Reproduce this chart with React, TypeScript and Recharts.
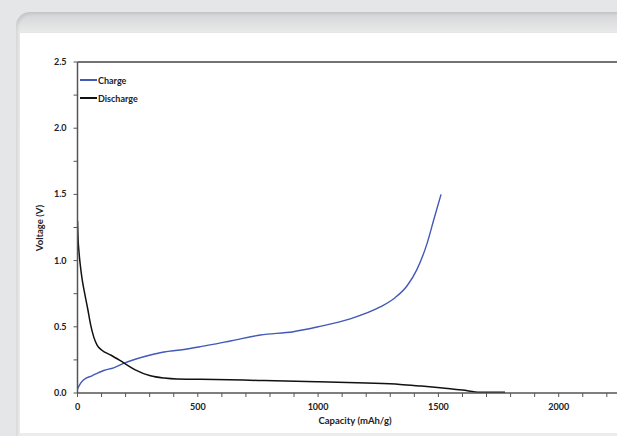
import React from "react";
import { LineChart, Line, XAxis, YAxis, ReferenceLine, Label } from "recharts";

// values
const chargeCapacity = [0, 8, 26, 60, 109, 150, 192, 240, 303, 360, 427, 511, 640, 760, 897, 1000, 1133, 1258, 1320, 1370, 1410, 1453, 1481, 1511];
const chargeVoltage = [0.03, 0.06, 0.1, 0.13, 0.17, 0.19, 0.224, 0.255, 0.287, 0.31, 0.325, 0.35, 0.395, 0.438, 0.463, 0.5, 0.56, 0.65, 0.72, 0.81, 0.93, 1.13, 1.31, 1.5];

const dischargeCapacity = [0, 2, 6, 12, 20, 30, 42, 54, 68, 82, 100, 140, 192, 240, 303, 360, 414, 511, 750, 996, 1200, 1341, 1430, 1507, 1600, 1673, 1720, 1777];
const dischargeVoltage = [1.3, 1.18, 1.07, 0.96, 0.85, 0.75, 0.64, 0.52, 0.42, 0.36, 0.325, 0.285, 0.228, 0.175, 0.13, 0.113, 0.106, 0.104, 0.095, 0.085, 0.075, 0.065, 0.052, 0.04, 0.022, 0.006, 0.005, 0.005];

const xTicks = [0, 100, 200, 300, 400, 500, 600, 700, 800, 900, 1000, 1100, 1200, 1300, 1400, 1500, 1600, 1700, 1800, 1900, 2000, 2100, 2200, 2300, 2400, 2500];
const yTicks = [0, 0.25, 0.5, 0.75, 1, 1.25, 1.5, 1.75, 2, 2.25, 2.5];

const seriesNames = ["Charge", "Discharge"];

const chargeData = chargeCapacity.map((c, i) => ({ cap: c, v: chargeVoltage[i] }));
const dischargeData = dischargeCapacity.map((c, i) => ({ cap: c, v: dischargeVoltage[i] }));

const BLUE = "#4259b8";
const FONT = "Lato, 'Open Sans', sans-serif";

const XTick = (props: any) => {
  const { x, y, payload } = props;
  const major = payload.value % 500 === 0;
  return (
    <g>
      <line x1={x} y1={y} x2={x} y2={y + 4} stroke="#555" strokeWidth={1} />
      {major && payload.value < 2500 && (
        <text x={x} y={y + 17} textAnchor="middle" fontSize={9} fontWeight={700} fill="#222" fontFamily={FONT}>
          {payload.value}
        </text>
      )}
    </g>
  );
};

const YTick = (props: any) => {
  const { x, y, payload } = props;
  const major = Math.abs((payload.value * 2) % 1) < 1e-6;
  return (
    <g>
      <line x1={x - 4} y1={y} x2={x} y2={y} stroke="#555" strokeWidth={1} />
      {major && (
        <text x={x - 11} y={y + 3} textAnchor="end" fontSize={9} fontWeight={700} fill="#222" fontFamily={FONT}>
          {payload.value.toFixed(1)}
        </text>
      )}
    </g>
  );
};

const LegendBox = () => (
  <div style={{ position: "absolute", left: 80, top: 71, fontFamily: FONT, fontSize: 9, fontWeight: 700, color: "#222" }}>
    {seriesNames.map((n, i) => (
      <div key={n} style={{ display: "flex", alignItems: "center", height: 18 }}>
        <span style={{ width: 17, height: i === 0 ? 1.3 : 1.7, background: i === 0 ? BLUE : "#111", display: "inline-block" }} />
        <span style={{ marginLeft: 1 }}>{n}</span>
      </div>
    ))}
  </div>
);

export default function App() {
  return (
    <div style={{ position: "fixed", left: 0, top: 0, width: 617, height: 436, overflow: "hidden", background: "#e5e6e8" }}>
      {/* card frame */}
      <div
        style={{
          position: "absolute",
          left: 16,
          top: 12,
          width: 720,
          height: 440,
          borderTopLeftRadius: 14,
          background: "linear-gradient(#d3d4d6, #e9e9ea 20px, #ececec)",
          boxShadow: "inset 2px 2px 3px rgba(0,0,0,0.08)",
        }}
      />
      <div
        style={{
          position: "absolute",
          left: 20,
          top: 32,
          width: 720,
          height: 400,
          background: "#fff",
          borderTop: "1px solid #e6e6e6",
          borderBottom: "1px solid #ececec",
        }}
      />
      <div style={{ position: "absolute", left: 0, top: 0 }}>
        <LineChart width={700} height={436} margin={{ top: 62, right: 21, bottom: 13, left: 17.5 }}>
          <XAxis
            type="number"
            dataKey="cap"
            domain={[0, 2500]}
            ticks={xTicks}
            interval={0}
            allowDataOverflow
            tickSize={0}
            tickMargin={0}
            tick={<XTick />}
            tickLine={false}
            height={30}
            stroke="#555"
            strokeWidth={1.5}
          >
            <Label
              content={() => (
                <text x={355} y={424} textAnchor="middle" fontSize={9.5} fontWeight={700} fill="#222" fontFamily={FONT}>
                  Capacity (mAh/g)
                </text>
              )}
            />
          </XAxis>
          <YAxis
            type="number"
            dataKey="v"
            domain={[0, 2.5]}
            ticks={yTicks}
            interval={0}
            allowDataOverflow
            tickSize={0}
            tickMargin={0}
            tick={<YTick />}
            tickLine={false}
            width={60}
            stroke="#555"
            strokeWidth={1.5}
          >
            <Label
              content={() => (
                <text
                  x={43}
                  y={228}
                  transform="rotate(-90 43 228)"
                  textAnchor="middle"
                  fontSize={9.5}
                  fontWeight={700}
                  fill="#222"
                  fontFamily={FONT}
                >
                  Voltage (V)
                </text>
              )}
            />
          </YAxis>
          <ReferenceLine y={2.5} stroke="#444" strokeWidth={1.5} />
          <Line
            name={seriesNames[0]}
            data={chargeData}
            dataKey="v"
            type="monotone"
            stroke={BLUE}
            strokeWidth={1.4}
            dot={false}
            isAnimationActive={false}
          />
          <Line
            name={seriesNames[1]}
            data={dischargeData}
            dataKey="v"
            type="monotone"
            stroke="#111"
            strokeWidth={1.5}
            dot={false}
            isAnimationActive={false}
          />
        </LineChart>
      </div>
      <LegendBox />
    </div>
  );
}
